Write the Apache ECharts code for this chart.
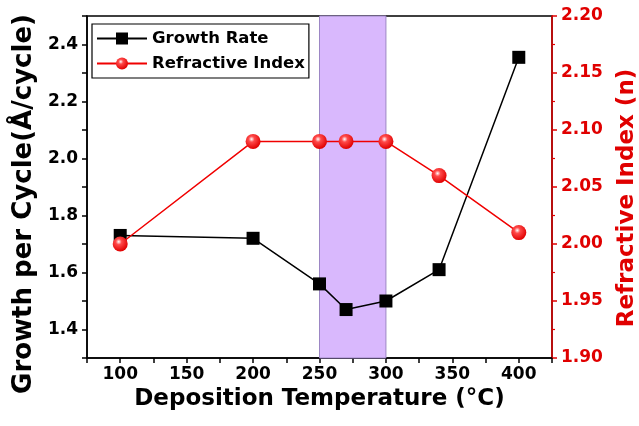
<!DOCTYPE html>
<html><head><meta charset="utf-8">
<script src="https://cdn.jsdelivr.net/npm/echarts@6/dist/echarts.min.js"></script>
<style>html,body{margin:0;padding:0;background:#fff}#c{width:639px;height:426px}</style>
</head><body><div id="c"></div>
<script>
const temps = [100, 200, 250, 270, 300, 340, 400];
const growthRate = [1.73, 1.72, 1.56, 1.47, 1.50, 1.61, 2.355];
const refractiveIndex = [2.00, 2.09, 2.09, 2.09, 2.09, 2.06, 2.01];
const bandRange = [250, 300];
const FONT = 'DejaVu Sans, sans-serif';

const chart = echarts.init(document.getElementById('c'));
chart.setOption({
  animation: false,
  backgroundColor: '#fff',
  grid: {left: 87, right: 87, top: 16, bottom: 68, show: true, borderColor: '#000', borderWidth: 1.5,
    containLabel: false, outerBoundsMode: 'none'},
  legend: {
    orient: 'vertical', left: 92, top: 24, padding: [6, 4, 6, 4], itemGap: 8,
    borderColor: '#000', borderWidth: 1.2, itemWidth: 50, itemHeight: 15,
    textStyle: {fontFamily: FONT, fontWeight: 'bold', fontSize: 16.5, color: '#000'},
    data: ['Growth Rate', 'Refractive Index']
  },
  xAxis: {
    type: 'value', min: 75, max: 425, interval: 25,
    name: 'Deposition Temperature (°C)', nameLocation: 'middle', nameGap: 24,
    nameTextStyle: {fontFamily: FONT, fontWeight: 'bold', fontSize: 23, color: '#000'},
    axisLine: {lineStyle: {color: '#000', width: 1.5}},
    axisTick: {show: true, inside: false, length: 5, lineStyle: {color: '#000', width: 1.5}},
    axisLabel: {fontFamily: FONT, fontWeight: 'bold', fontSize: 17, color: '#000', margin: 8,
      formatter: v => (v % 50 === 0 ? String(v) : '')},
    splitLine: {show: false}
  },
  yAxis: [{
    type: 'value', min: 1.3, max: 2.5, interval: 0.1, position: 'left',
    name: 'Growth per Cycle(Å/cycle)', nameLocation: 'middle', nameGap: 49, nameRotate: 90,
    nameTextStyle: {fontFamily: FONT, fontWeight: 'bold', fontSize: 26, color: '#000', padding: [0, 34, 0, 0]},
    axisLine: {show: true, lineStyle: {color: '#000', width: 1.5}},
    axisTick: {show: true, length: 5, lineStyle: {color: '#000', width: 1.5}},
    axisLabel: {fontFamily: FONT, fontWeight: 'bold', fontSize: 17, color: '#000', margin: 9,
      formatter: v => (Math.round(v * 10) % 2 === 0 && v > 1.31 && v < 2.49 ? v.toFixed(1) : '')},
    splitLine: {show: false}
  }, {
    type: 'value', min: 1.9, max: 2.2, interval: 0.05, position: 'right',
    name: 'Refractive Index (n)', nameLocation: 'middle', nameGap: 64, nameRotate: 90,
    nameTextStyle: {fontFamily: FONT, fontWeight: 'bold', fontSize: 23, color: '#e00000', padding: [0, 22, 0, 0]},
    axisLine: {show: true, lineStyle: {color: '#e00000', width: 1.5}},
    axisTick: {show: true, length: 5, lineStyle: {color: '#e00000', width: 1.5}},
    minorTick: {show: true, splitNumber: 2, length: 3, lineStyle: {color: '#e00000', width: 1.2}},
    axisLabel: {fontFamily: FONT, fontWeight: 'bold', fontSize: 17, color: '#e00000', margin: 9,
      formatter: v => v.toFixed(2)},
    splitLine: {show: false}
  }],
  series: [{
    name: 'Growth Rate', type: 'line', yAxisIndex: 0,
    data: temps.map((t, i) => [t, growthRate[i]]),
    symbol: 'rect', symbolSize: 13,
    lineStyle: {color: '#000', width: 1.5},
    itemStyle: {color: '#000'},
    z: 3,
    markArea: {
      silent: true,
      itemStyle: {color: '#d9b8fd', borderColor: '#9c86c4', borderWidth: 1},
      data: [[{xAxis: bandRange[0]}, {xAxis: bandRange[1]}]]
    }
  }, {
    name: 'Refractive Index', type: 'line', yAxisIndex: 1,
    data: temps.map((t, i) => [t, refractiveIndex[i]]),
    symbol: 'circle', symbolSize: 15,
    lineStyle: {color: '#f00000', width: 1.5},
    itemStyle: {color: {type: 'radial', x: 0.4, y: 0.35, r: 0.65,
      colorStops: [{offset: 0, color: '#ffffff'}, {offset: 0.3, color: '#ff4a4a'}, {offset: 1, color: '#e00000'}]}},
    z: 4
  }]
});
</script></body></html>
